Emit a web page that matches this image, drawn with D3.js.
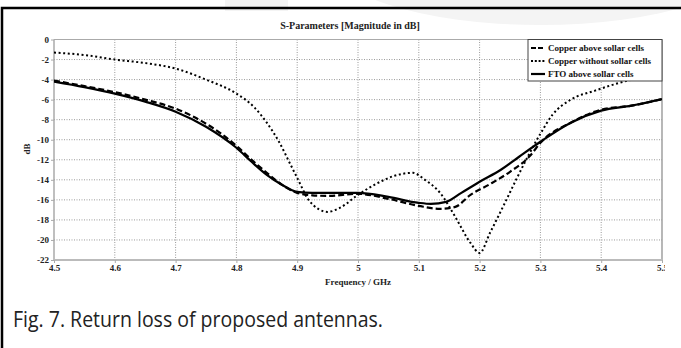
<!DOCTYPE html>
<html>
<head>
<meta charset="utf-8">
<script src="https://cdn.jsdelivr.net/npm/d3@7"></script>
<style>
html,body{margin:0;padding:0;background:#fff;}
svg{display:block;}
</style>
</head>
<body>
<svg id="chart" width="681" height="348"></svg>
<script>
// ---- data ----
const xTickValues = [4.5,4.6,4.7,4.8,4.9,5.0,5.1,5.2,5.3,5.4,5.5];
const xTickLabels = ["4.5","4.6","4.7","4.8","4.9","5","5.1","5.2","5.3","5.4","5.5"];
const yTickValues = [0,-2,-4,-6,-8,-10,-12,-14,-16,-18,-20,-22];
const yTickLabels = ["0","-2","-4","-6","-8","-10","-12","-14","-16","-18","-20","-22"];

const seriesNames = ["Copper above sollar cells","Copper without sollar cells","FTO above sollar cells"];

const copperAboveFreq = [4.5,4.55,4.6,4.65,4.7,4.75,4.8,4.825,4.85,4.875,4.9,4.925,4.95,5.0,5.05,5.1,5.135,5.16,5.185,5.215,5.25,5.283,5.3,5.35,5.4,5.45,5.5];
const copperAboveDb   = [-4.1,-4.65,-5.25,-6.0,-6.9,-8.4,-10.6,-12.0,-13.3,-14.5,-15.3,-15.55,-15.6,-15.4,-15.9,-16.6,-16.9,-16.7,-15.5,-14.5,-13.2,-11.6,-10.3,-8.3,-7.0,-6.6,-5.95];

const copperWithoutFreq = [4.5,4.55,4.6,4.65,4.7,4.75,4.8,4.83,4.85,4.87,4.89,4.9,4.92,4.95,4.97,5.0,5.03,5.06,5.09,5.11,5.135,5.16,5.185,5.2,5.217,5.24,5.26,5.28,5.3,5.32,5.35,5.39,5.42,5.45,5.5];
const copperWithoutDb   = [-1.3,-1.55,-2.0,-2.35,-2.9,-4.0,-5.4,-6.8,-8.3,-10.2,-12.6,-13.8,-16.1,-17.2,-16.8,-15.5,-14.4,-13.6,-13.3,-14.0,-15.3,-17.7,-20.3,-21.3,-19.3,-16.5,-14.0,-11.6,-9.4,-7.5,-6.0,-5.1,-4.5,-4.0,-3.3];

const ftoAboveFreq = [4.5,4.55,4.6,4.65,4.7,4.75,4.8,4.825,4.85,4.875,4.9,4.925,4.95,5.0,5.05,5.1,5.12,5.145,5.17,5.2,5.235,5.265,5.3,5.35,5.4,5.45,5.5];
const ftoAboveDb   = [-4.2,-4.75,-5.4,-6.2,-7.2,-8.7,-10.8,-12.2,-13.5,-14.5,-15.2,-15.3,-15.3,-15.3,-15.7,-16.3,-16.4,-16.2,-15.3,-14.2,-13.0,-11.7,-10.2,-8.3,-7.1,-6.6,-5.95];

const chartTitle = "S-Parameters [Magnitude in dB]";
const xTitle = "Frequency / GHz";
const yTitle = "dB";
const caption = "Fig. 7. Return loss of proposed antennas.";

// ---- drawing ----
const svg = d3.select("#chart");
const L = 54, R = 662, T = 39.5, B = 260;
const x = d3.scaleLinear().domain([4.5,5.5]).range([L,R]);
const y = d3.scaleLinear().domain([-22,0]).range([B,T]);
const serif = "'Liberation Serif','Times New Roman',serif";

// faint watermark shapes
svg.append("ellipse").attr("cx",540).attr("cy",-45).attr("rx",215).attr("ry",70).attr("fill","#f4f4f4");
svg.append("rect").attr("x",225).attr("y",0).attr("width",63).attr("height",11).attr("fill","#f4f4f4");

// outer frame
svg.append("path").attr("d","M2,348V8H681").attr("fill","none").attr("stroke","#000").attr("stroke-width",2.5);

const clip = svg.append("defs").append("clipPath").attr("id","clipR")
  .append("rect").attr("x",0).attr("y",0).attr("width",665).attr("height",348);

const g = svg.append("g").attr("clip-path","url(#clipR)");

// grid
g.append("g").selectAll("line").data(xTickValues.slice(1,-1)).join("line")
  .attr("x1",d=>x(d)).attr("x2",d=>x(d)).attr("y1",T).attr("y2",B)
  .attr("stroke","#999").attr("stroke-width",1).attr("stroke-dasharray","1,1.5");
g.append("g").selectAll("line").data(yTickValues.slice(1,-1)).join("line")
  .attr("x1",L).attr("x2",R).attr("y1",d=>y(d)).attr("y2",d=>y(d))
  .attr("stroke","#999").attr("stroke-width",1).attr("stroke-dasharray","1,1.5");

// plot borders
g.append("line").attr("x1",L).attr("x2",R).attr("y1",T).attr("y2",T).attr("stroke","#aaa");
g.append("line").attr("x1",R).attr("x2",R).attr("y1",T).attr("y2",B).attr("stroke","#888").attr("stroke-width",1.2);
g.append("line").attr("x1",L).attr("x2",L).attr("y1",T).attr("y2",B+1).attr("stroke","#aaa").attr("stroke-width",1.5);
g.append("line").attr("x1",L).attr("x2",R+1).attr("y1",B).attr("y2",B).attr("stroke","#bbb").attr("stroke-width",2.2);

// axes via d3
const yAxis = d3.axisLeft(y).tickValues(yTickValues).tickFormat((d,i)=>yTickLabels[i]).tickSize(3).tickPadding(2);
const ya = g.append("g").attr("transform",`translate(${L},0)`).call(yAxis);
ya.select(".domain").remove();
ya.selectAll(".tick line").attr("stroke","#aaa");
ya.selectAll(".tick text").attr("font-family",serif).attr("font-weight","bold").attr("font-size",9).attr("fill","#222");

const xAxis = d3.axisBottom(x).tickValues(xTickValues).tickFormat((d,i)=>xTickLabels[i]).tickSize(3).tickPadding(2);
const xa = g.append("g").attr("transform",`translate(0,${B})`).call(xAxis);
xa.select(".domain").remove();
xa.selectAll(".tick line").attr("stroke","#aaa");
xa.selectAll(".tick text").attr("font-family",serif).attr("font-weight","bold").attr("font-size",9).attr("fill","#222");

// titles
svg.append("text").attr("x",350).attr("y",29).attr("text-anchor","middle")
  .attr("font-family",serif).attr("font-weight","bold").attr("font-size",10).attr("fill","#222").text(chartTitle);
svg.append("text").attr("x",358).attr("y",285).attr("text-anchor","middle")
  .attr("font-family",serif).attr("font-weight","bold").attr("font-size",9).attr("fill","#222").text(xTitle);
svg.append("text").attr("transform","translate(30,149) rotate(-90)").attr("text-anchor","middle")
  .attr("font-family",serif).attr("font-weight","bold").attr("font-size",9).attr("fill","#222").text(yTitle);

// lines
const line = d3.line().x(d=>x(d[0])).y(d=>y(d[1])).curve(d3.curveMonotoneX);
const series = [
  {name:seriesNames[0], data:d3.zip(copperAboveFreq,copperAboveDb), dash:"6,3", w:2.2},
  {name:seriesNames[1], data:d3.zip(copperWithoutFreq,copperWithoutDb), dash:"2,2.6", w:2},
  {name:seriesNames[2], data:d3.zip(ftoAboveFreq,ftoAboveDb), dash:null, w:2.2}
];
const plotClip = svg.select("defs").append("clipPath").attr("id","plotClip")
  .append("rect").attr("x",L).attr("y",T).attr("width",R-L).attr("height",B-T);
const lg = svg.append("g").attr("clip-path","url(#plotClip)");
series.forEach(s=>{
  lg.append("path").attr("d",line(s.data)).attr("fill","none").attr("stroke","#000")
    .attr("stroke-width",s.w).attr("stroke-dasharray",s.dash);
});

// legend
const leg = svg.append("g");
leg.append("rect").attr("x",528).attr("y",39.5).attr("width",134).attr("height",41.5)
  .attr("fill","#fff").attr("stroke","#444").attr("stroke-width",1);
series.forEach((s,i)=>{
  const yy = 48 + i*13;
  leg.append("line").attr("x1",531).attr("x2",545).attr("y1",yy).attr("y2",yy)
    .attr("stroke","#000").attr("stroke-width",s.w).attr("stroke-dasharray",s.dash ? (i===0?"5,2":"2,1.8") : null);
  leg.append("text").attr("x",548).attr("y",yy+3).attr("font-family",serif).attr("font-weight","bold")
    .attr("font-size",9).attr("fill","#111").text(s.name);
});

// caption
const cap = svg.append("text").attr("x",13).attr("y",327).attr("font-family","'Open Sans','Noto Sans',sans-serif")
  .attr("font-size",21).attr("fill","#222").text(caption);
const w = cap.node().getComputedTextLength();
if (w > 372) cap.attr("textLength",370).attr("lengthAdjust","spacingAndGlyphs");
</script>
</body>
</html>
